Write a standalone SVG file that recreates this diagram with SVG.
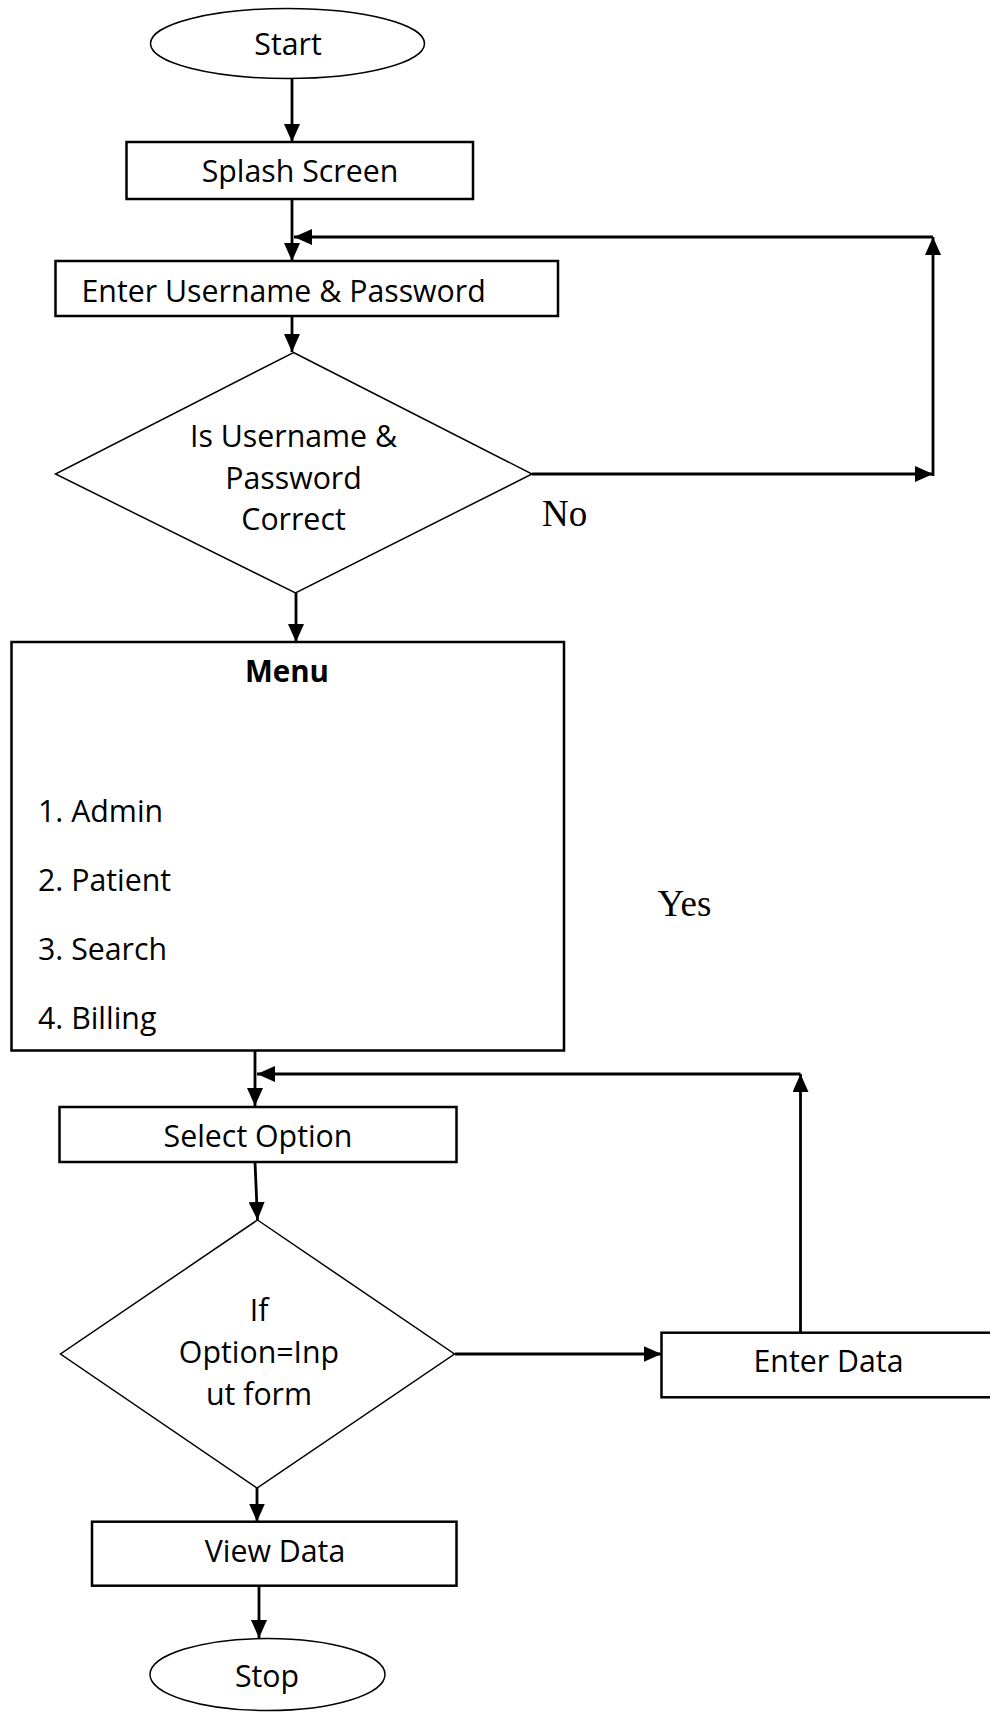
<svg xmlns="http://www.w3.org/2000/svg" width="990" height="1712" viewBox="0 0 990 1712">
<style>
.box{fill:#fff;stroke:#000;stroke-width:2.5}
.thin{fill:#fff;stroke:#000;stroke-width:1.5}
.t{font-family:"Open Sans","Noto Sans","Liberation Sans",sans-serif;font-size:30.3px;fill:#000}
.c{text-anchor:middle}
.b{font-weight:bold;font-size:29.5px}
.s{font-family:"Liberation Serif","Times New Roman",serif;font-size:37px;fill:#000}
.ln{fill:none;stroke:#000;stroke-width:2.8;marker-end:url(#ah)}
</style>
<defs>
<marker id="ah" markerUnits="userSpaceOnUse" markerWidth="18" markerHeight="16" refX="18" refY="8" orient="auto" viewBox="0 0 18 16">
<path d="M0,0 L18,8 L0,16 z" fill="#000"/>
</marker>
</defs>
<rect width="990" height="1712" fill="#fff"/>
<g id="connectors">
<line class="ln" x1="292" y1="78" x2="292" y2="142"/>
<line class="ln" x1="292" y1="199" x2="292" y2="261"/>
<line class="ln" x1="532" y1="474" x2="933" y2="474"/>
<line class="ln" x1="933" y1="476" x2="933" y2="237"/>
<line class="ln" x1="933" y1="237" x2="294" y2="237"/>
<line class="ln" x1="292" y1="316" x2="292" y2="352"/>
<line class="ln" x1="296" y1="593" x2="296" y2="642"/>
<line class="ln" x1="255" y1="1050" x2="255" y2="1106"/>
<line class="ln" x1="800.5" y1="1333" x2="800.5" y2="1074"/>
<line class="ln" x1="800.5" y1="1074" x2="257" y2="1074"/>
<line class="ln" x1="255" y1="1162" x2="257.5" y2="1220"/>
<line class="ln" x1="455" y1="1354" x2="661.5" y2="1354"/>
<line class="ln" x1="257" y1="1488" x2="257" y2="1521.5"/>
<line class="ln" x1="259" y1="1586" x2="259" y2="1638"/>
</g>
<g id="start">
<ellipse class="thin" cx="287.5" cy="43.5" rx="137" ry="35"/>
<text class="t c" x="288" y="55">Start</text>
</g>
<g id="splash">
<rect class="box" x="126.5" y="142" width="346.5" height="57"/>
<text class="t c" x="300" y="181.5">Splash Screen</text>
</g>
<g id="enter-credentials">
<rect class="box" x="55.5" y="261" width="502.5" height="55"/>
<text class="t" x="81.5" y="301.5">Enter Username &amp; Password</text>
</g>
<g id="check-credentials">
<polygon class="thin" points="293.5,352.5 532,474 295.5,593 55.5,474"/>
<text class="t c" x="293.5" y="447">Is Username &amp;</text>
<text class="t c" x="293.5" y="488.5">Password</text>
<text class="t c" x="293.5" y="530">Correct</text>
</g>
<g id="label-no">
<text class="s" x="542" y="526">No</text>
</g>
<g id="menu">
<rect class="box" x="11.5" y="642" width="552.5" height="408.5"/>
<text class="t c b" x="287" y="682">Menu</text>
<text class="t" x="38" y="821.5">1. Admin</text>
<text class="t" x="38" y="890.8">2. Patient</text>
<text class="t" x="38" y="960">3. Search</text>
<text class="t" x="38" y="1029.3">4. Billing</text>
</g>
<g id="label-yes">
<text class="s" x="657.5" y="916">Yes</text>
</g>
<g id="select-option">
<rect class="box" x="59.5" y="1107" width="397" height="55"/>
<text class="t c" x="258" y="1147.3">Select Option</text>
</g>
<g id="check-option">
<polygon class="thin" points="257.5,1220 454.5,1354 257,1488 60.5,1354"/>
<text class="t c" x="259" y="1321">If</text>
<text class="t c" x="259" y="1363">Option=Inp</text>
<text class="t c" x="259" y="1405">ut form</text>
</g>
<g id="enter-data">
<rect class="box" x="661.5" y="1332.7" width="340" height="64.6"/>
<text class="t c" x="828.5" y="1371.7">Enter Data</text>
</g>
<g id="view-data">
<rect class="box" x="92" y="1521.7" width="364.5" height="64"/>
<text class="t c" x="275" y="1561.7">View Data</text>
</g>
<g id="stop">
<ellipse class="thin" cx="267.5" cy="1674.5" rx="117.5" ry="36"/>
<text class="t c" x="267" y="1687">Stop</text>
</g>
</svg>
